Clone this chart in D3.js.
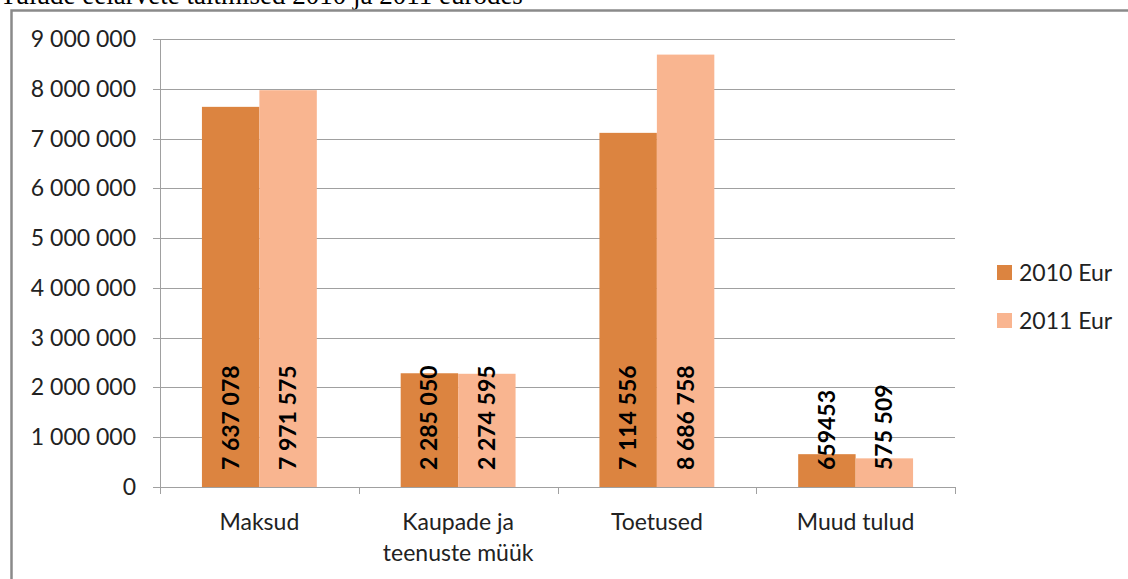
<!DOCTYPE html>
<html>
<head>
<meta charset="utf-8">
<script src="https://cdn.jsdelivr.net/npm/d3@7"></script>
<style>
  body { margin: 0; background: #fff; }
  svg { display: block; }
</style>
</head>
<body>
<script>
var categories = [["Maksud"], ["Kaupade ja", "teenuste müük"], ["Toetused"], ["Muud tulud"]];
var series = ["2010 Eur", "2011 Eur"];
var values2010 = [7637078, 2285050, 7114556, 659453];
var values2011 = [7971575, 2274595, 8686758, 575509];
var labels2010 = ["7 637 078", "2 285 050", "7 114 556", "659453"];
var labels2011 = ["7 971 575", "2 274 595", "8 686 758", "575 509"];
var yTicks = [0, 1000000, 2000000, 3000000, 4000000, 5000000, 6000000, 7000000, 8000000, 9000000];
var colors = ["#DC8440", "#F9B590"];

var width = 1128, height = 579;
var font = "Lato, 'Open Sans', sans-serif";

var svg = d3.select("body").append("svg")
    .attr("width", width)
    .attr("height", height);

// title, cut off at the top like the source
svg.append("text")
    .attr("x", 0)
    .attr("y", 4)
    .attr("font-family", "'Liberation Serif', 'Times New Roman', serif")
    .attr("font-size", 27)
    .attr("fill", "#000")
    .text("Tulude eelarvete täitmised 2010 ja 2011 eurodes");

// chart frame
svg.append("path")
    .attr("d", "M11.5," + height + " L11.5,10.5 L" + width + ",10.5")
    .attr("fill", "none")
    .attr("stroke", "#8a8a8a")
    .attr("stroke-width", 2.5);

var x0 = 160, x1 = 955, yTop = 39, yBase = 487;

var x = d3.scaleBand()
    .domain(d3.range(categories.length))
    .range([x0, x1])
    .paddingInner(0)
    .paddingOuter(0);

var y = d3.scaleLinear()
    .domain([0, 9000000])
    .range([yBase, yTop]);

var xs = d3.scaleBand()
    .domain(series)
    .range([0, x.bandwidth()])
    .paddingInner(0)
    .paddingOuter(0.73);

// gridlines
svg.append("g").selectAll("line")
    .data(yTicks)
    .join("line")
    .attr("x1", x0 - 7)
    .attr("x2", x1)
    .attr("y1", function(d) { return Math.round(y(d)) + 0.5; })
    .attr("y2", function(d) { return Math.round(y(d)) + 0.5; })
    .attr("stroke", "#a0a0a0")
    .attr("stroke-width", 1);

// y axis line
svg.append("line")
    .attr("x1", x0 + 0.5).attr("x2", x0 + 0.5)
    .attr("y1", yTop).attr("y2", yBase)
    .attr("stroke", "#a0a0a0");

// y tick labels
svg.append("g").selectAll("text")
    .data(yTicks)
    .join("text")
    .attr("x", 136)
    .attr("y", function(d) { return y(d) + 8; })
    .attr("text-anchor", "end")
    .attr("font-family", font)
    .attr("font-size", 23)
    .attr("fill", "#222")
    .text(function(d) { return d3.format(",")(d).replace(/,/g, " "); });

// x category ticks
svg.append("g").selectAll("line")
    .data(d3.range(categories.length + 1))
    .join("line")
    .attr("x1", function(i) { return Math.round(x0 + i * x.bandwidth()) + 0.5; })
    .attr("x2", function(i) { return Math.round(x0 + i * x.bandwidth()) + 0.5; })
    .attr("y1", yBase)
    .attr("y2", yBase + 7)
    .attr("stroke", "#a0a0a0");

var rows = categories.map(function(c, i) {
  return { i: i, vals: [values2010[i], values2011[i]], labels: [labels2010[i], labels2011[i]] };
});

var groups = svg.append("g").selectAll("g")
    .data(rows)
    .join("g")
    .attr("transform", function(d) { return "translate(" + x(d.i) + ",0)"; });

groups.selectAll("rect")
    .data(function(d) { return d.vals.map(function(v, k) { return { k: k, v: v }; }); })
    .join("rect")
    .attr("x", function(d) { return xs(series[d.k]); })
    .attr("width", xs.bandwidth())
    .attr("y", function(d) { return y(d.v); })
    .attr("height", function(d) { return yBase - y(d.v); })
    .attr("fill", function(d) { return colors[d.k]; });

// value labels, rotated, sitting at the base of each bar
groups.selectAll("text.val")
    .data(function(d) { return d.labels.map(function(l, k) { return { k: k, l: l }; }); })
    .join("text")
    .attr("class", "val")
    .attr("transform", function(d) {
      var cx = xs(series[d.k]) + xs.bandwidth() / 2 + 8;
      return "translate(" + cx + "," + (yBase - 17) + ") rotate(-90)";
    })
    .attr("font-family", font)
    .attr("font-size", 23)
    .attr("font-weight", "bold")
    .attr("fill", "#000")
    .text(function(d) { return d.l; });

// category labels
var catText = svg.append("g").selectAll("text")
    .data(categories)
    .join("text")
    .attr("x", function(d, i) { return x(i) + x.bandwidth() / 2; })
    .attr("y", 530)
    .attr("text-anchor", "middle")
    .attr("font-family", font)
    .attr("font-size", 23)
    .attr("fill", "#222");

catText.selectAll("tspan")
    .data(function(d) { return d; })
    .join("tspan")
    .attr("x", function() { return d3.select(this.parentNode).attr("x"); })
    .attr("dy", function(d, j) { return j === 0 ? 0 : 31; })
    .text(function(d) { return d; });

// legend
var legend = svg.append("g").selectAll("g")
    .data(series)
    .join("g")
    .attr("transform", function(d, i) { return "translate(997," + (265 + i * 48) + ")"; });

legend.append("rect")
    .attr("width", 15)
    .attr("height", 15)
    .attr("fill", function(d, i) { return colors[i]; });

legend.append("text")
    .attr("x", 22)
    .attr("y", 16)
    .attr("font-family", font)
    .attr("font-size", 23)
    .attr("fill", "#222")
    .text(function(d) { return d; });
</script>
</body>
</html>
